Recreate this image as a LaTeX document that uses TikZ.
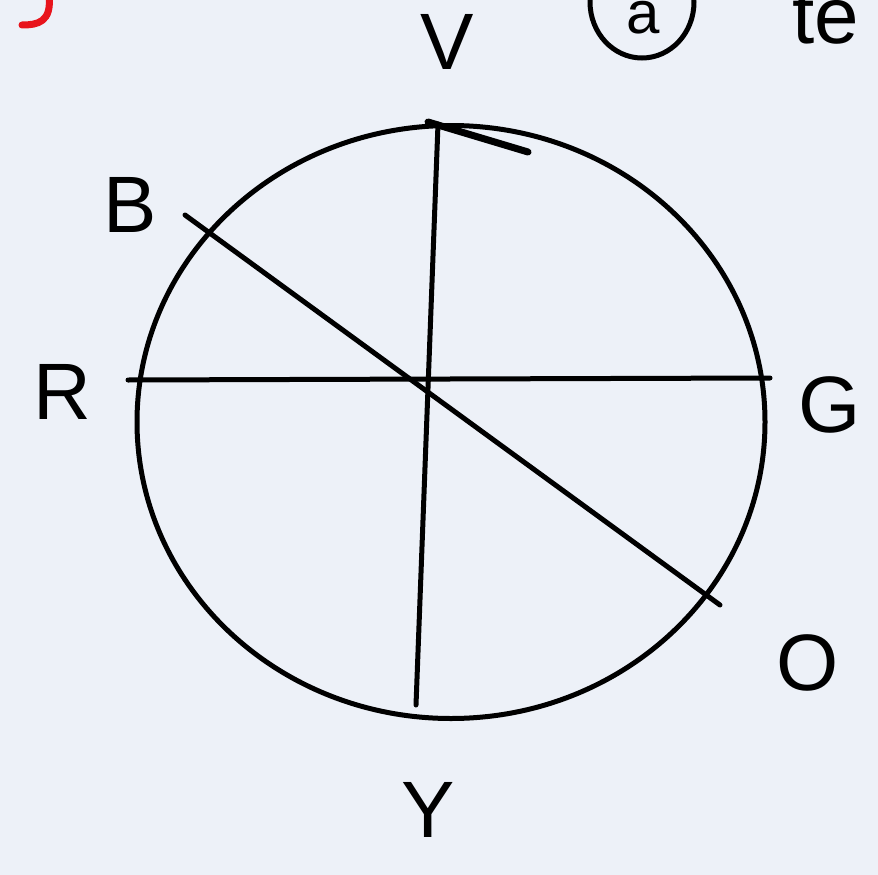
\documentclass[tikz,border=0pt]{standalone}
\usepackage{fontspec}
\setsansfont{Liberation Sans}
\usetikzlibrary{shapes.geometric}

\definecolor{paper}{HTML}{EDF1F8}
\definecolor{inkred}{HTML}{E8141C}

\begin{document}
\begin{tikzpicture}[
  x=1pt, y=-1pt,
  stroke/.style={line width=5pt, line cap=round},
  lbl/.style={font=\sffamily\fontsize{80}{80}\selectfont, inner sep=0pt}
]
\fill[paper] (0,0) rectangle (878,875);
\clip (0,0) rectangle (878,875);

% outer ring
\node[draw, ellipse, stroke, minimum width=628pt, minimum height=593pt] (wheel) at (451,422) {};

% end points of the spokes
\coordinate (vtop) at (438,124);
\coordinate (vbot) at (416,705);
\coordinate (hleft) at (128,380);
\coordinate (hright) at (770,378);
\coordinate (dtop) at (185,215);
\coordinate (dbot) at (720,605);
\coordinate (mark1) at (428,122);
\coordinate (mark2) at (528,152);

\draw[stroke] (vtop) -- (vbot);
\draw[stroke] (hleft) -- (hright);
\draw[stroke] (dtop) -- (dbot);
\draw[stroke, line width=7pt] (mark1) -- (mark2);

% colour labels
\node[lbl] (v) at (447,42) {V};
\node[lbl] (b) at (130,205) {B};
\node[lbl] (r) at (62,392) {R};
\node[lbl] (g) at (830,405) {G};
\node[lbl] (o) at (808,663) {O};
\node[lbl] (y) at (428,810) {Y};

% cut-off bits along the top edge
\node[draw, ellipse, stroke, minimum width=104pt, minimum height=112pt] (tag) at (642,2) {};
\node[lbl, font=\sffamily\fontsize{60}{60}\selectfont] (taga) at (643,18) {a};
\node[lbl] (te) at (826,18) {te};
\draw[inkred, line width=7pt, line cap=round] (49,-5) .. controls (52,22) and (38,25) .. (22,25);
\end{tikzpicture}
\end{document}
